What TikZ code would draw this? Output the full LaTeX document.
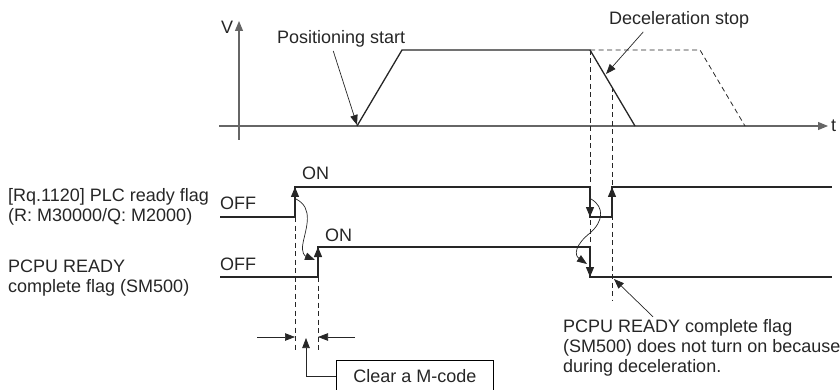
\documentclass[tikz,border=0pt]{standalone}
\usepackage{fontspec}
\setmainfont{Liberation Sans}
\usetikzlibrary{arrows.meta}

\begin{document}
\begin{tikzpicture}[x=1pt, y=-1pt,
    lbl/.style={font=\fontsize{18}{20}\selectfont, text=black!85, inner sep=0pt, anchor=base west},
    sig/.style={line width=1.3pt, black!85},
    axis/.style={line width=1.1pt, black!60, -{Triangle[length=10pt,width=8pt]}},
    guide/.style={line width=0.8pt, black!85, dash pattern=on 5pt off 3.5pt},
    ann/.style={line width=0.7pt, black!85, -{Triangle[length=10pt,width=7.5pt]}},
    edge/.style={line width=1.3pt, black!85, -{Triangle[length=10pt,width=8pt]}}]
    \useasboundingbox (0,0) rectangle (840,390);

    % Speed axes and profile
    \draw[axis] (219,126) -- (828,126);
    \draw[axis] (239,140) -- (239,21);
    \node[lbl] (v) at (221,34) {V};
    \node[lbl] (t) at (831,132) {t};
    \draw[sig] (357,126) -- (402,50) -- (590,50) -- (635,126);
    \draw[guide] (590,50) -- (700,50) -- (745,126);

    \node[lbl] (pstart) at (277,44) {Positioning start};
    \coordinate (p0) at (357,125);
    \draw[ann] ([shift={(-8,3)}]pstart.south) -- (p0);
    \node[lbl] (dstop) at (609,25) {Deceleration stop};
    \coordinate (d0) at (606,74);
    \draw[ann] ([shift={(-36,3)}]dstop.south) -- (d0);

    % Guide lines
    \draw[guide] (590,50) -- (590,277);
    \draw[guide] (612,87) -- (612,300);
    \draw[guide] (295,217) -- (295,352);
    \draw[guide] (318,277) -- (318,352);

    % Signals
    \node[lbl] (plc1) at (8,201) {[Rq.1120] PLC ready flag};
    \node[lbl] (plc2) at (8,221) {(R: M30000/Q: M2000)};
    \node[lbl] (pc1) at (8,272) {PCPU READY};
    \node[lbl] (pc2) at (8,292) {complete flag (SM500)};
    \node[lbl] (off1) at (220,209) {OFF};
    \node[lbl] (on1) at (302,180) {ON};
    \node[lbl] (off2) at (220,270) {OFF};
    \node[lbl] (on2) at (325,241) {ON};

    \draw[sig] (220,217) -- (295,217) -- (295,187) -- (590,187) -- (590,217)
        -- (612,217) -- (612,187) -- (832,187);
    \draw[sig] (220,277) -- (318,277) -- (318,247) -- (590,247) -- (590,277) -- (832,277);
    \foreach \x/\a/\b in {295/205/187, 612/205/187, 318/265/247, 590/200/217, 590/260/277}
        \draw[edge] (\x,\a) -- (\x,\b);

    \draw[ann] (296,199) .. controls (314,208) and (306,228) .. (303,243)
        .. controls (301,253) and (305,256) .. (315,260);
    \draw[ann] (591,199) .. controls (605,207) and (603,222) .. (590,233)
        .. controls (575,245) and (574,255) .. (587,264);

    % M-code clear
    \coordinate (dl) at (257,337);
    \coordinate (dr) at (355,337);
    \coordinate (m1) at (295,337);
    \coordinate (m2) at (318,337);
    \coordinate (mc) at (306,338);
    \draw[ann] (dl) -- (m1);
    \draw[ann] (dr) -- (m2);
    \node[lbl, draw, line width=0.8pt, anchor=north west, minimum height=32pt,
        text height=13pt, text depth=0pt, inner xsep=17pt] (clr) at (336,360) {Clear a M-code};
    \draw[ann] (clr.west) -| (mc);

    % Note
    \node[lbl] (n1) at (563,332) {PCPU READY complete flag};
    \node[lbl] (n2) at (563,352) {(SM500) does not turn on because};
    \node[lbl] (n3) at (563,372) {during deceleration.};
    \coordinate (n0) at (614,279);
    \draw[ann] ([shift={(90,-2)}]n1.north west) -- (n0);
\end{tikzpicture}
\end{document}
